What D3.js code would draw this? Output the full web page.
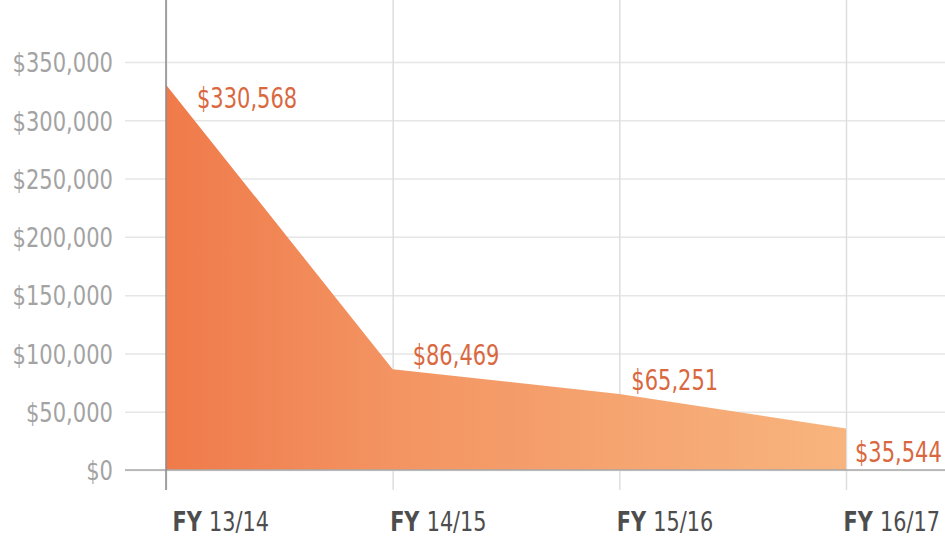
<!DOCTYPE html>
<html>
<head>
<meta charset="utf-8">
<script src="https://cdn.jsdelivr.net/npm/d3@7"></script>
<style>
  html, body { margin: 0; padding: 0; background: #fff; }
  svg { display: block; }
  text { font-family: "DejaVu Sans", sans-serif; }
</style>
</head>
<body>
<div id="chart"></div>
<script>
// Data
const categories = ['FY 13/14', 'FY 14/15', 'FY 15/16', 'FY 16/17'];
const values = [330568, 86469, 65251, 35544];
const valueLabels = ['$330,568', '$86,469', '$65,251', '$35,544'];
const yTicks = [0, 50000, 100000, 150000, 200000, 250000, 300000, 350000];

const W = 945, H = 537;
const gridLeft = 125, axisY = 470, tickBottom = 490;

const svg = d3.select('#chart').append('svg')
  .attr('width', W)
  .attr('height', H);

const x = d3.scalePoint()
  .domain(categories)
  .range([166, 846]);

const y = d3.scaleLinear()
  .domain([0, 350000])
  .range([axisY, 62]);

// no condensed face installed, so squeeze the text horizontally
const squeeze = (sel, tx, ty, s) => sel
  .attr('x', 0).attr('y', 0)
  .attr('transform', (d, i) => `translate(${tx(d, i)},${ty(d, i)}) scale(${s},1)`);

// gradient for the area
const grad = svg.append('defs').append('linearGradient')
  .attr('id', 'areaGrad')
  .attr('gradientUnits', 'userSpaceOnUse')
  .attr('x1', x(categories[0])).attr('x2', x(categories[categories.length - 1]))
  .attr('y1', 0).attr('y2', 0);
grad.append('stop').attr('offset', '0%').attr('stop-color', '#f07a4a');
grad.append('stop').attr('offset', '35%').attr('stop-color', '#f39563');
grad.append('stop').attr('offset', '100%').attr('stop-color', '#f8b47e');

// horizontal gridlines + y labels
const yAxis = svg.append('g')
  .attr('transform', `translate(${gridLeft},0)`)
  .call(d3.axisLeft(y)
    .tickValues(yTicks)
    .tickSize(-(W - gridLeft))
    .tickFormat(d => '$' + d3.format(',')(d)));
yAxis.select('.domain').remove();
yAxis.selectAll('.tick line').attr('stroke', '#e6e6e6').attr('stroke-width', 1.5);
yAxis.selectAll('.tick text')
  .attr('fill', '#a3a3a3')
  .attr('font-size', 27)
  .attr('font-family', null)
  .attr('dy', '0.36em')
  .call(squeeze, () => -12, () => 0, 0.78);

// vertical gridlines + x labels
const xAxis = svg.append('g')
  .attr('transform', `translate(0,${tickBottom})`)
  .call(d3.axisBottom(x).tickSize(-tickBottom));
xAxis.select('.domain').remove();
xAxis.selectAll('.tick line').attr('stroke', '#dedede').attr('stroke-width', 1.5);
xAxis.selectAll('.tick text').remove();
xAxis.selectAll('.tick').append('text')
  .attr('text-anchor', 'start')
  .attr('fill', '#4d4d4d')
  .attr('font-size', 26)
  .each(function (d) {
    const parts = d.split(' ');
    const t = d3.select(this);
    t.append('tspan').attr('font-weight', 'bold').text(parts[0] + ' ');
    t.append('tspan').text(parts[1]);
  })
  .call(squeeze, (d, i) => i === 0 ? 6 : -3, () => 41, 0.8);

// area
const area = d3.area()
  .x((d, i) => x(categories[i]))
  .y0(y(0))
  .y1(d => y(d));

svg.append('path')
  .datum(values)
  .attr('fill', 'url(#areaGrad)')
  .attr('d', area);

// axis lines on top
svg.append('line')
  .attr('x1', gridLeft).attr('x2', W)
  .attr('y1', y(0)).attr('y2', y(0))
  .attr('stroke', '#a8a8a8').attr('stroke-width', 1.5);
svg.append('line')
  .attr('x1', x(categories[0])).attr('x2', x(categories[0]))
  .attr('y1', 0).attr('y2', tickBottom)
  .attr('stroke', '#8a8a8a').attr('stroke-width', 1.5);

// value labels
const labelDx = [31, 20, 12, 9];
const labelDy = [23, -4, -4, 33];
svg.append('g').selectAll('text')
  .data(values)
  .join('text')
  .attr('fill', '#d9683f')
  .attr('font-size', 28)
  .text((d, i) => valueLabels[i])
  .call(squeeze, (d, i) => x(categories[i]) + labelDx[i], (d, i) => y(d) + labelDy[i], 0.75);
</script>
</body>
</html>
